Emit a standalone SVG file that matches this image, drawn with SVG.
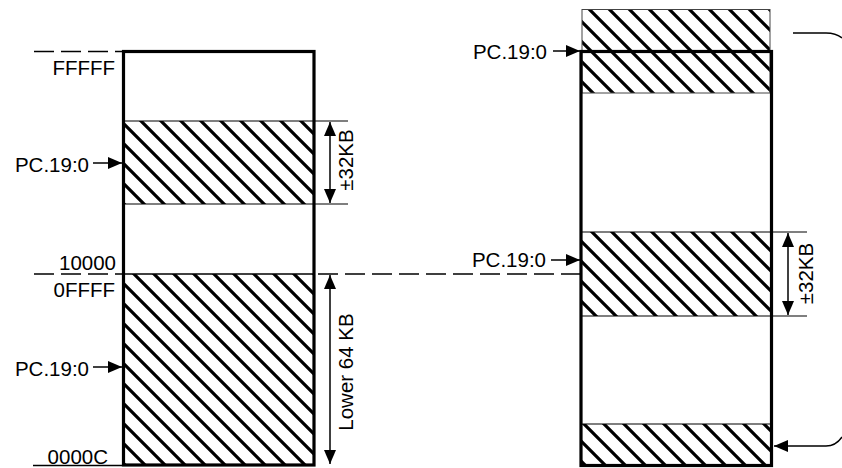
<svg xmlns="http://www.w3.org/2000/svg" width="842" height="468" viewBox="0 0 842 468">
<style>
text{font-family:"Liberation Sans",Arial,sans-serif;font-size:20.5px;fill:#000}
.thick{fill:none;stroke:#000;stroke-width:3.2}
.thin{stroke:#000;stroke-width:1.2;fill:none}
.hatch{fill:url(#h)}
.dash{stroke:#000;stroke-width:1.3;stroke-dasharray:20 7;fill:none}
.arr{stroke:#000;stroke-width:1.5;fill:none;marker-end:url(#ah)}
.dim{stroke:#000;stroke-width:1.5;fill:none;marker-start:url(#ah);marker-end:url(#ah)}
</style>
<defs>
<pattern id="h" patternUnits="userSpaceOnUse" width="20" height="20">
<path d="M-5,-5 L25,25 M-5,15 L5,25 M15,-5 L25,5" stroke="#000" stroke-width="3.2"/>
</pattern>
<marker id="ah" viewBox="0 0 14 12" refX="14" refY="6" markerWidth="14" markerHeight="12" markerUnits="userSpaceOnUse" orient="auto-start-reverse">
<path d="M0,0 L14,6 L0,12 z" fill="#000"/>
</marker>
</defs>

<g id="left-memory">
<rect class="hatch" x="123" y="121" width="191" height="83"/>
<rect class="hatch" x="123" y="274" width="191" height="191"/>
<line class="thin" x1="123" y1="121" x2="348" y2="121"/>
<line class="thin" x1="123" y1="204" x2="348" y2="204"/>
<line x1="123" y1="274" x2="314" y2="274" stroke="#000" stroke-width="1.6"/>
<rect class="thick" x="123.5" y="51.5" width="190.5" height="413.5"/>
</g>

<g id="left-addresses">
<line class="dash" x1="34" y1="51.5" x2="122" y2="51.5"/>
<text x="115" y="75" text-anchor="end">FFFFF</text>
<text x="116" y="270" text-anchor="end">10000</text>
<text x="115" y="297" text-anchor="end">0FFFF</text>
<line x1="33" y1="465.5" x2="122" y2="465.5" stroke="#000" stroke-width="1.3"/>
<text x="108" y="464" text-anchor="end">0000C</text>
</g>

<g id="left-pc-upper"><text x="89" y="171.5" text-anchor="end">PC.19:0</text></g>
<g id="left-pc-lower"><text x="89" y="376" text-anchor="end">PC.19:0</text></g>
<g id="left-dim-32kb"><text transform="translate(353,160) rotate(-90)" text-anchor="middle">±32KB</text></g>
<g id="left-dim-64kb"><text transform="translate(353,372) rotate(-90)" text-anchor="middle">Lower 64 KB</text></g>

<g id="right-memory">
<rect class="hatch" x="582" y="9.5" width="188" height="83.5" stroke="#444" stroke-width="1"/>
<rect class="hatch" x="581" y="232" width="190" height="84"/>
<rect class="hatch" x="581" y="424" width="190" height="42"/>
<line class="thin" x1="581" y1="232" x2="807" y2="232"/>
<line class="thin" x1="581" y1="316" x2="807" y2="316"/>
<line class="thin" x1="581" y1="424" x2="771" y2="424"/>
<rect class="thick" x="581" y="51.5" width="190.5" height="414"/>
</g>

<g id="right-pc-top"><text x="547" y="59" text-anchor="end">PC.19:0</text></g>
<g id="right-pc-mid"><text x="546" y="267" text-anchor="end">PC.19:0</text></g>
<g id="right-dim-32kb"><text transform="translate(813,273.5) rotate(-90)" text-anchor="middle">±32KB</text></g>

<g id="connectors">
<line class="arr" x1="93" y1="163" x2="122" y2="163"/>
<line class="arr" x1="93" y1="367" x2="122" y2="367"/>
<line class="dim" x1="330" y1="122" x2="330" y2="203"/>
<line class="dim" x1="330" y1="275" x2="330" y2="464"/>
<line class="dash" x1="34" y1="274" x2="122" y2="274"/>
<line class="dash" x1="318" y1="274" x2="580" y2="274"/>
<line class="arr" x1="553" y1="51" x2="580" y2="51"/>
<line class="arr" x1="551" y1="260" x2="580" y2="260"/>
<line class="dim" x1="788" y1="233" x2="788" y2="315"/>
<path d="M793,33 H826 Q836,33 842,38" stroke="#000" stroke-width="1.4" fill="none"/>
<path d="M842,437 Q836,446 826,446 H774" stroke="#000" stroke-width="1.4" fill="none" marker-end="url(#ah)"/>
</g>
</svg>
